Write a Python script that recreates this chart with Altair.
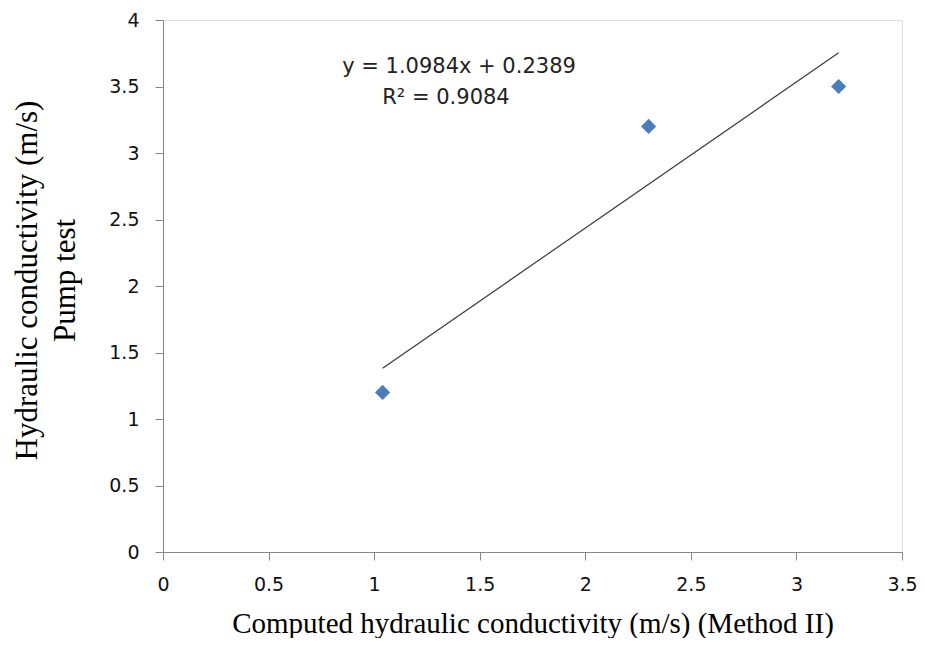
import altair as alt
import pandas as pd

# Data
x_vals = [1.04, 2.3, 3.2]
y_vals = [1.2, 3.2, 3.5]
equation_line = "y = 1.0984x + 0.2389"
r2_line = "R² = 0.9084"

x_ticks = [0, 0.5, 1, 1.5, 2, 2.5, 3, 3.5]
y_ticks = [0, 0.5, 1, 1.5, 2, 2.5, 3, 3.5, 4]

df = pd.DataFrame({"x": x_vals, "y": y_vals})

tick_font = "DejaVu Sans"
title_font = "Liberation Serif"

x_enc = alt.X(
    "x:Q",
    scale=alt.Scale(domain=[0, 3.5], nice=False, zero=False),
    axis=alt.Axis(
        values=x_ticks,
        format="~g",
        labelFlush=False,
        title="Computed hydraulic conductivity (m/s) (Method II)",
        grid=False,
        domainColor="#868686",
        tickColor="#868686",
        tickSize=8,
        labelFont=tick_font,
        labelFontSize=19,
        labelColor="#111111",
        labelPadding=15,
        titleFont=title_font,
        titleFontSize=29,
        titleFontWeight="normal",
        titleColor="#000000",
        titleBaseline="alphabetic",
        titleY=80,
    ),
)
y_enc = alt.Y(
    "y:Q",
    scale=alt.Scale(domain=[0, 4], nice=False, zero=False),
    axis=alt.Axis(
        values=y_ticks,
        format="~g",
        labelFlush=False,
        title=["Hydraulic conductivity (m/s)", "Pump test"],
        grid=False,
        domainColor="#868686",
        tickColor="#868686",
        tickSize=8,
        labelFont=tick_font,
        labelFontSize=19,
        labelColor="#111111",
        labelPadding=16,
        titleFont=title_font,
        titleFontSize=31,
        titleFontWeight="normal",
        titleColor="#000000",
        titleAngle=-90,
        titleAlign="center",
        titleBaseline="top",
        titleX=-151,
        titleY=260,
        titleLineHeight=38,
    ),
)

base = alt.Chart(df)

trend = base.transform_regression("x", "y", method="linear").mark_line(
    color="#3a3a3a", strokeWidth=1.2
).encode(x=x_enc, y=y_enc)

points = base.mark_point(
    shape="diamond", filled=True, size=230, color="#4a7ebb", opacity=1
).encode(x=x_enc, y=y_enc)

ann1 = alt.Chart(pd.DataFrame({"label": [equation_line]})).mark_text(
    font=tick_font, fontSize=21, color="#222222", align="center", baseline="middle"
).encode(x=alt.value(296), y=alt.value(47), text="label:N")

ann2 = alt.Chart(pd.DataFrame({"label": [r2_line]})).mark_text(
    font=tick_font, fontSize=21, color="#222222", align="center", baseline="middle"
).encode(x=alt.value(283), y=alt.value(78), text="label:N")

chart = alt.layer(trend, points, ann1, ann2).properties(
    width=739,
    height=532,
    autosize=alt.AutoSizeParams(type="none"),
    padding={"left": 155, "top": 12, "right": 15, "bottom": 86},
).configure_view(stroke=None).configure(background="white")

chart.save("out.html", embed_options={"renderer": "svg", "actions": False})
